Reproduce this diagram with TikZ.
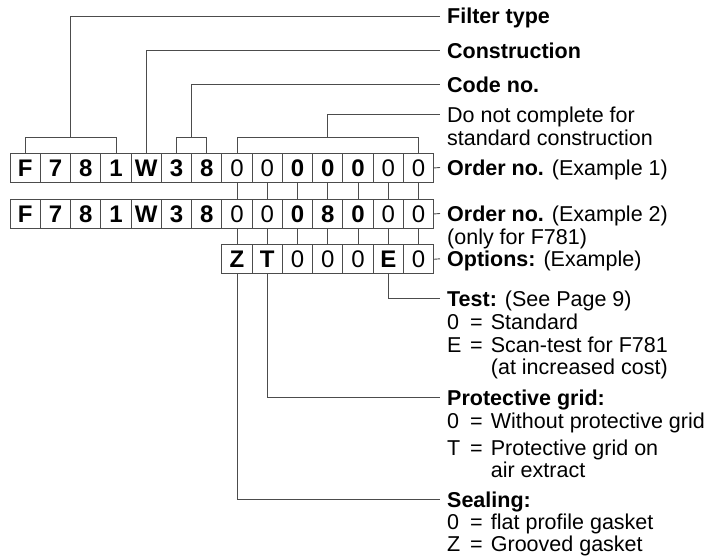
\documentclass[tikz,border=0pt]{standalone}
\usepackage{fontspec}
\setmainfont{Liberation Sans}
\usetikzlibrary{positioning, calc}

\newcommand{\codelist}[1]{\begin{tabular}[t]{@{}p{23pt}@{}p{20.7pt}@{}l@{}}#1\end{tabular}}

\begin{document}
\begin{tikzpicture}[
  x=1pt, y=-1pt,
  rg/.style={draw=black!70, line width=0.9pt, anchor=north west, minimum width=30.25pt, minimum height=29pt, inner sep=0pt, font=\fontsize{24}{24}\selectfont},
  bd/.style={rg, font=\fontsize{24}{24}\selectfont\bfseries},
  head/.style={anchor=west, inner xsep=7pt, inner ysep=0pt, text height=15.4pt, text depth=0pt, font=\fontsize{21.5}{22.5}\selectfont},
  defs/.style={anchor=base west, inner xsep=7pt, inner ysep=0pt, font=\fontsize{21.5}{22.5}\selectfont},
  lead/.style={draw=black!70, line width=0.9pt}
]
\useasboundingbox (0,0) rectangle (724,558);

% code rows
\foreach \ch/\st [count=\i] in {F/bd,7/bd,8/bd,1/bd,W/bd,3/bd,8/bd,0/rg,0/rg,0/bd,0/bd,0/bd,0/rg,0/rg}
  \node[\st] (a\i) at ({9.7+(\i-1)*30.25},153) {\ch};
\foreach \ch/\st [count=\i] in {F/bd,7/bd,8/bd,1/bd,W/bd,3/bd,8/bd,0/rg,0/rg,0/bd,8/bd,0/bd,0/rg,0/rg}
  \node[\st] (b\i) at ({9.7+(\i-1)*30.25},199) {\ch};
\foreach \ch/\st [count=\i from 8] in {Z/bd,T/bd,0/rg,0/rg,0/rg,E/bd,0/rg}
  \node[\st] (c\i) at ({9.7+(\i-1)*30.25},244.3) {\ch};

% labels
\node[head] (ftype) at (440,16) {\textbf{Filter type}};
\node[head] (constr) at (440,50.3) {\textbf{Construction}};
\node[head] (code) at (440,84.3) {\textbf{Code no.}};
\node[head] (dnc) at (440,114.5) {Do not complete for};
\node[head] (dnc2) at ([yshift=-23.3pt]dnc.west) {standard construction};
\node[head] (order1) at (440,167.5) {\textbf{Order no.} (Example 1)};
\node[head] (order2) at (440,213.5) {\textbf{Order no.} (Example 2)};
\node[head] (only) at ([yshift=-23.3pt]order2.west) {(only for F781)};
\node[head] (opts) at (440,258.8) {\textbf{Options:} (Example)};

\node[head] (test) at (440,298.5) {\textbf{Test:} (See Page 9)};
\node[defs] (testdef) at ([yshift=-23.5pt]test.base west)
  {\codelist{0 & = & Standard\\ E & = & Scan-test for F781\\ & & (at increased cost)}};
\node[head] (grid) at (440,397.7) {\textbf{Protective grid:}};
\node[defs] (griddef) at ([yshift=-23.3pt]grid.base west)
  {\codelist{0 & = & Without protective grid\\[4.2pt] T & = & Protective grid on\\ & & air extract}};
\node[head] (seal) at (440,499.3) {\textbf{Sealing:}};
\node[defs] (sealdef) at ([yshift=-22pt]seal.base west)
  {\codelist{0 & = & flat profile gasket\\ Z & = & Grooved gasket}};

% leaders above
\draw[lead] (a1.north) -- ++(0,-16) -| (a4.north);
\draw[lead] ($(a1.north)!.5!(a4.north)+(0,-16)$) |- (ftype.west);
\draw[lead] (a5.north) |- (constr.west);
\draw[lead] (a6.north) -- ++(0,-16) -| (a7.north);
\draw[lead] ($(a6.north)!.5!(a7.north)+(0,-16)$) |- (code.west);
\draw[lead] (a8.north) -- ++(0,-16) -| (a14.north);
\draw[lead] ($(a8.north)!.5!(a14.north)+(0,-16)$) |- (dnc.west);

% row links
\foreach \i in {8,...,14} {
  \draw[lead] (a\i) -- (b\i);
  \draw[lead] (b\i) -- (c\i);
}
\draw[lead] (a14.east) -- (order1.west);
\draw[lead] (b14.east) -- (order2.west);
\draw[lead] (c14.east) -- (opts.west);

% leaders below
\draw[lead] (c13.south) |- (test.west);
\draw[lead] (c9.south) |- (grid.west);
\draw[lead] (c8.south) |- (seal.west);
\end{tikzpicture}
\end{document}
